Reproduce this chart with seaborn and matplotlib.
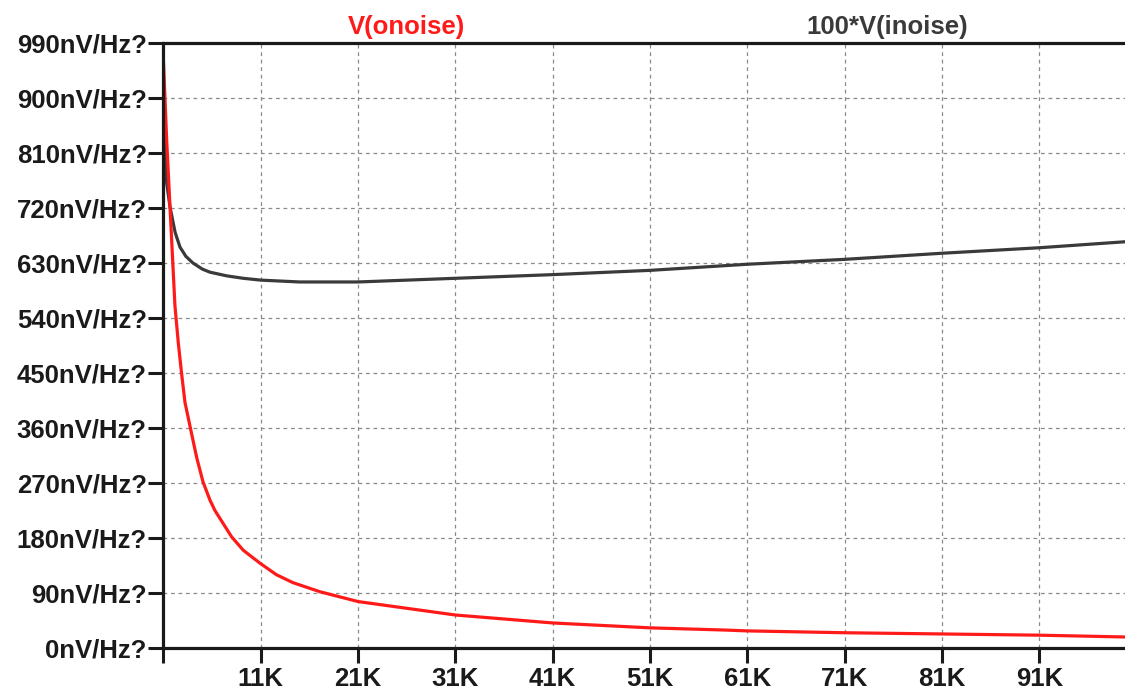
import numpy as np
import pandas as pd
import matplotlib
matplotlib.use("Agg")
import matplotlib.pyplot as plt
import seaborn as sns

# Noise curves (frequency in kHz, noise in nV/Hz?)
onoise_freq = [1.0, 1.33, 1.67, 2.18, 2.52, 2.87, 3.21, 3.9, 4.41, 5.06, 5.78,
               6.29, 8.0, 9.2, 10.9, 12.6, 14.3, 17.1, 21, 31, 41, 51, 58.5,
               61, 71, 81, 91, 100]
onoise_val = [960, 831, 722, 560, 500, 448, 402, 350, 312, 272, 242,
              225, 182, 160, 139, 120, 107, 92, 76, 54, 41, 33, 29.5,
              28, 25, 23, 21, 18]

inoise_freq = [1.0, 1.33, 1.67, 2.2, 2.7, 3.3, 4.03, 5.0, 5.78, 7.5, 9.2, 11,
               15, 21, 31, 41, 51, 61, 71, 81, 91, 100]
inoise_val = [870, 761, 722, 680, 656, 641, 630, 620, 615, 609, 605, 602,
              599, 599, 605, 611, 618, 628, 636, 646, 655, 665]

y_ticks = list(range(0, 991, 90))
y_labels = [f"{v}nV/Hz?" for v in y_ticks]
x_ticks = [1, 11, 21, 31, 41, 51, 61, 71, 81, 91]
x_labels = [""] + [f"{v}K" for v in x_ticks[1:]]

sns.set_style("white")
plt.rcParams["font.family"] = ["Liberation Sans", "DejaVu Sans"]

df_on = pd.DataFrame({"freq": onoise_freq, "noise": onoise_val})
df_in = pd.DataFrame({"freq": inoise_freq, "noise": inoise_val})

fig = plt.figure(figsize=(11.25, 6.95), dpi=100)
ax = fig.add_axes([0.1453, 0.0676, 1.0 - 0.1453, 0.9381 - 0.0676])

sns.lineplot(data=df_in, x="freq", y="noise", ax=ax, color="#3a3a3a",
             linewidth=2.3, estimator=None, sort=True)
sns.lineplot(data=df_on, x="freq", y="noise", ax=ax, color="#ff1a1a",
             linewidth=2.3, estimator=None, sort=True)

ax.set_xlim(1, 99.8)
ax.set_ylim(0, 990)
ax.set_xticks(x_ticks)
ax.set_xticklabels(x_labels)
ax.set_yticks(y_ticks)
ax.set_yticklabels(y_labels)
ax.set_xlabel("")
ax.set_ylabel("")

for lab in ax.get_xticklabels() + ax.get_yticklabels():
    lab.set_fontsize(18.5)
    lab.set_fontweight("bold")
    lab.set_color("#1a1a1a")

ax.tick_params(axis="both", direction="out", length=11, width=2.2,
               color="#1a1a1a", pad=1, bottom=True, left=True)
ax.tick_params(axis="x", pad=3)

ax.grid(True, color="#8a8a8a", linestyle=(0, (3, 3)), linewidth=0.9)
ax.set_axisbelow(True)

for side in ["left", "bottom", "top"]:
    ax.spines[side].set_visible(True)
    ax.spines[side].set_color("#1a1a1a")
    ax.spines[side].set_linewidth(2.3)
ax.spines["right"].set_visible(False)

fig.text(406 / 1125, 1 - 27 / 695, "V(onoise)", color="#ff1a1a",
         fontsize=18.5, fontweight="bold", ha="center", va="center")
fig.text(887 / 1125, 1 - 27 / 695, "100*V(inoise)", color="#3a3a3a",
         fontsize=18.5, fontweight="bold", ha="center", va="center")

fig.savefig("out.png", dpi=100, facecolor="white")
